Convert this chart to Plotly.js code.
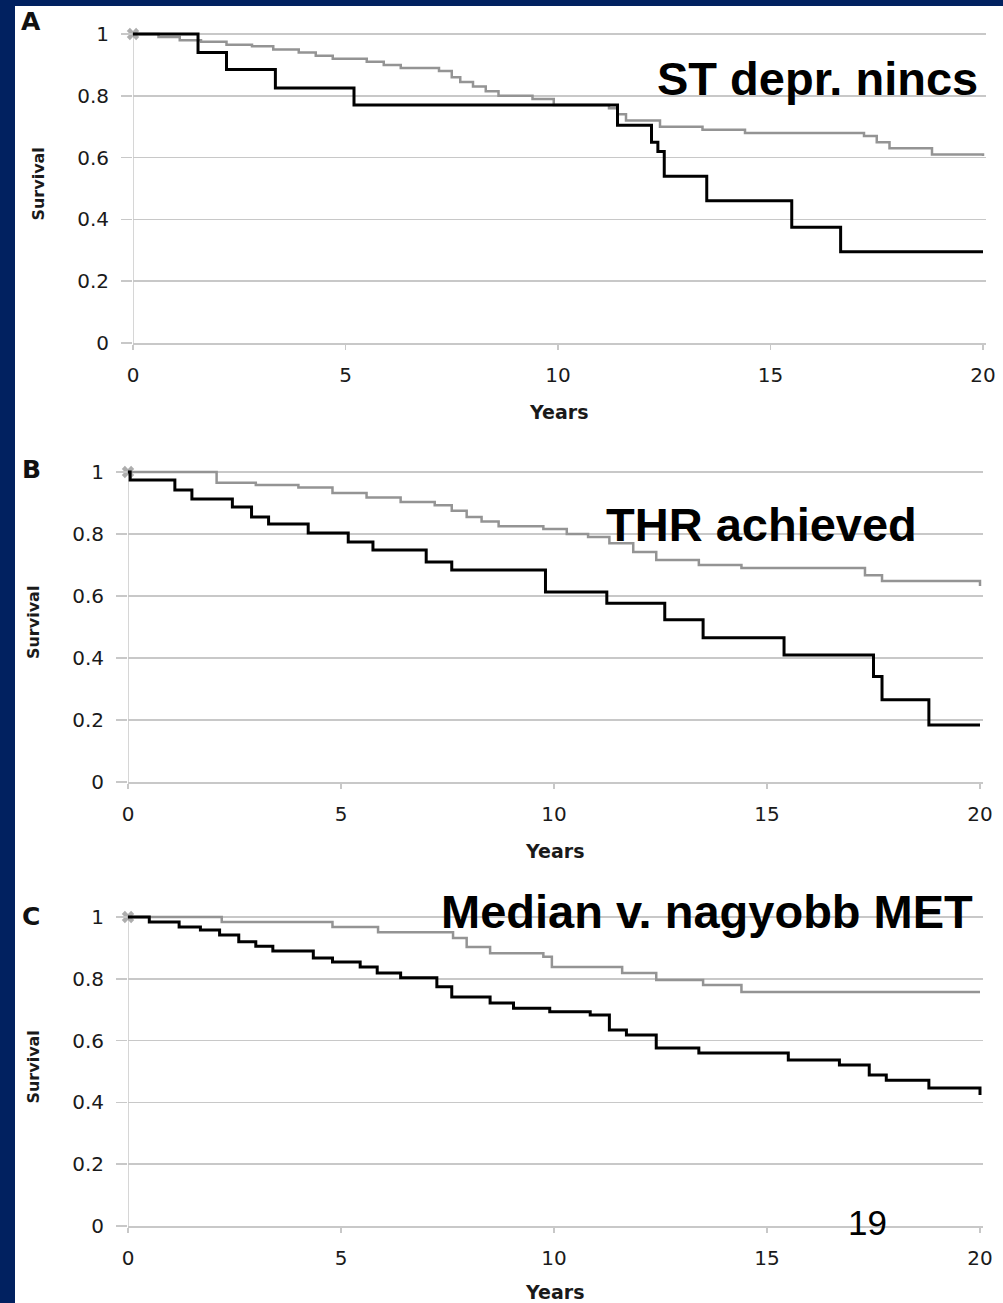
<!DOCTYPE html>
<html>
<head>
<meta charset="utf-8">
<script src="https://cdn.plot.ly/plotly-3.0.1.min.js"></script>
<style>
  html, body { margin: 0; padding: 0; background: #012160; width: 1003px; height: 1303px; overflow: hidden; }
  #plot { position: absolute; left: 15px; top: 6px; width: 988px; height: 1297px; }
</style>
</head>
<body>
<div id="plot"></div>
<script>
// ---- Data ----
const panelLetters = ["A", "B", "C"];
const panelTitles = ["ST depr. nincs", "THR achieved", "Median v. nagyobb MET"];
const xTickVals = [0, 5, 10, 15, 20];
const yTickVals = [0, 0.2, 0.4, 0.6, 0.8, 1];

// Panel A
const tA_black = [0, 1.53, 2.2, 3.35, 5.2, 11.4, 12.2, 12.35, 12.5, 13.5, 15.5, 16.65, 20];
const sA_black = [1, 0.94, 0.885, 0.825, 0.77, 0.705, 0.65, 0.62, 0.54, 0.46, 0.375, 0.295, 0.295];
const tA_gray = [0, 0.6, 1.1, 1.6, 2.2, 2.8, 3.3, 3.9, 4.3, 4.7, 5.5, 5.9, 6.3, 7.2, 7.5, 7.7, 8.0, 8.3, 8.6, 9.4, 9.9, 11.2, 11.4, 11.6, 12.4, 13.4, 14.4, 17.2, 17.5, 17.8, 18.8, 20];
const sA_gray = [1, 0.99, 0.98, 0.975, 0.965, 0.96, 0.95, 0.94, 0.93, 0.92, 0.91, 0.90, 0.89, 0.88, 0.86, 0.845, 0.83, 0.815, 0.80, 0.79, 0.77, 0.76, 0.74, 0.72, 0.70, 0.69, 0.68, 0.67, 0.65, 0.63, 0.61, 0.605];

// Panel B
const tB_black = [0, 0.05, 1.1, 1.5, 2.45, 2.9, 3.3, 4.23, 5.17, 5.75, 7.0, 7.6, 9.8, 11.24, 12.6, 13.5, 15.4, 17.5, 17.7, 18.8, 20];
const sB_black = [1, 0.974, 0.942, 0.913, 0.887, 0.855, 0.832, 0.803, 0.774, 0.748, 0.71, 0.684, 0.613, 0.577, 0.523, 0.465, 0.41, 0.34, 0.265, 0.184, 0.184];
const tB_gray = [0, 2.08, 3.0, 4.0, 4.8, 5.6, 6.4, 7.2, 7.6, 7.95, 8.3, 8.7, 9.75, 10.3, 10.8, 11.3, 11.86, 12.4, 13.4, 14.4, 17.3, 17.7, 20];
const sB_gray = [1, 0.965, 0.958, 0.95, 0.932, 0.918, 0.903, 0.893, 0.875, 0.855, 0.84, 0.825, 0.816, 0.80, 0.79, 0.77, 0.742, 0.716, 0.70, 0.69, 0.667, 0.648, 0.632];

// Panel C
const tC_black = [0, 0.5, 1.2, 1.7, 2.15, 2.6, 3.0, 3.4, 4.35, 4.8, 5.45, 5.85, 6.4, 7.25, 7.6, 8.5, 9.05, 9.9, 10.85, 11.3, 11.7, 12.4, 13.4, 15.5, 16.7, 17.4, 17.8, 18.8, 20];
const sC_black = [1, 0.984, 0.968, 0.958, 0.942, 0.92, 0.905, 0.89, 0.867, 0.854, 0.838, 0.819, 0.803, 0.774, 0.741, 0.722, 0.705, 0.693, 0.683, 0.634, 0.618, 0.576, 0.56, 0.537, 0.521, 0.489, 0.472, 0.447, 0.424];
const tC_gray = [0, 2.2, 4.8, 5.87, 7.63, 7.95, 8.5, 9.75, 9.95, 11.6, 12.4, 13.5, 14.4, 20];
const sC_gray = [1, 0.984, 0.968, 0.951, 0.932, 0.903, 0.883, 0.871, 0.838, 0.819, 0.796, 0.78, 0.757, 0.757];

// ---- Layout geometry (pixels inside the 988x1297 plot div) ----
const W = 988, H = 1297;
const GRID = '#c8c8c8';
const GRAYLINE = '#949494';
const panels = [
  { x0: 118, x20: 968, y0: 337, y1: 28, black: [tA_black, sA_black], gray: [tA_gray, sA_gray],
    letter: [16, 16], title: { x: 965, y: 72, anchor: 'right' } },
  { x0: 113, x20: 965, y0: 776, y1: 466, black: [tB_black, sB_black], gray: [tB_gray, sB_gray],
    letter: [16, 463], title: { x: 904, y: 518.5, anchor: 'right' } },
  { x0: 113, x20: 965, y0: 1220, y1: 911, black: [tC_black, sC_black], gray: [tC_gray, sC_gray],
    letter: [16, 910], title: { x: 960, y: 905.5, anchor: 'right' } }
];
const XMAX = 20.06, YMAX = 1.03;

const data = [];
const layout = {
  width: W, height: H,
  margin: { l: 0, r: 0, t: 0, b: 0, pad: 0 },
  paper_bgcolor: '#ffffff',
  plot_bgcolor: 'rgba(0,0,0,0)',
  showlegend: false,
  shapes: [],
  annotations: []
};

panels.forEach((p, i) => {
  const n = i === 0 ? '' : String(i + 1);
  const xa = 'x' + n, ya = 'y' + n;
  const pxPerX = (p.x20 - p.x0) / 20;
  const pxPerY = (p.y0 - p.y1);
  const xRight = p.x0 + XMAX * pxPerX;
  const yTop = p.y0 - YMAX * pxPerY;

  layout['xaxis' + n] = {
    domain: [p.x0 / W, xRight / W],
    range: [0, XMAX],
    anchor: ya,
    tickvals: xTickVals,
    ticks: 'outside', ticklen: 5, tickwidth: 1.5, tickcolor: GRID,
    showgrid: false, zeroline: false,
    showline: true, linecolor: GRID, linewidth: 1.5,
    ticklabelstandoff: 8,
    tickfont: { family: 'DejaVu Sans', size: 20, color: '#1a1a1a' },
    title: { text: 'Years', standoff: 20, font: { family: 'DejaVu Sans', size: 19, color: '#1a1a1a', weight: 'bold' } },
    fixedrange: true
  };
  layout['yaxis' + n] = {
    domain: [1 - p.y0 / H, 1 - yTop / H],
    range: [0, YMAX],
    anchor: xa,
    tickvals: yTickVals,
    ticks: 'outside', ticklen: 11, tickwidth: 1.5, tickcolor: GRID,
    showgrid: true, gridcolor: GRID, gridwidth: 1.5,
    zeroline: false, showline: false,
    ticklabelstandoff: 8,
    tickfont: { family: 'DejaVu Sans', size: 20, color: '#1a1a1a' },
    title: { text: 'Survival', standoff: 28, font: { family: 'DejaVu Sans', size: 16, color: '#1a1a1a', weight: 'bold' } },
    fixedrange: true
  };
  // vertical axis line from 0 to 1
  layout.shapes.push({ type: 'line', xref: xa, yref: ya, x0: 0, x1: 0, y0: 0, y1: 1,
    line: { color: GRID, width: 1.5 }, layer: 'below' });

  const gt = p.gray[0], gs = p.gray[1];
  data.push({
    type: 'scatter', mode: 'lines+markers', xaxis: xa, yaxis: ya,
    x: gt, y: gs, line: { shape: 'hv', color: GRAYLINE, width: 2.5 },
    marker: { symbol: 'x', color: '#8a8a8a', size: gt.map((_, k) => k === 0 ? 11 : 0), line: { width: 0 } },
    cliponaxis: false, hoverinfo: 'skip'
  });
  const bt = p.black[0], bs = p.black[1];
  data.push({
    type: 'scatter', mode: 'lines', xaxis: xa, yaxis: ya,
    x: bt, y: bs, line: { shape: 'hv', color: '#000000', width: 3 },
    hoverinfo: 'skip'
  });

  layout.annotations.push({
    xref: 'paper', yref: 'paper', x: p.letter[0] / W, y: 1 - p.letter[1] / H,
    xanchor: 'center', yanchor: 'middle', showarrow: false,
    text: panelLetters[i], font: { family: 'DejaVu Sans', size: 25, color: '#111', weight: 'bold' }
  });
  layout.annotations.push({
    xref: 'paper', yref: 'paper', x: p.title.x / W, y: 1 - p.title.y / H,
    xanchor: p.title.anchor, yanchor: 'middle', showarrow: false,
    text: panelTitles[i], font: { family: 'Liberation Sans', size: 47, color: '#000', weight: 'bold' }
  });
});

layout.annotations.push({
  xref: 'paper', yref: 'paper', x: 852 / W, y: 1 - 1216 / H,
  xanchor: 'center', yanchor: 'middle', showarrow: false,
  text: '19', font: { family: 'Liberation Sans', size: 35, color: '#000' }
});

Plotly.newPlot('plot', data, layout, { displayModeBar: false, staticPlot: true });
</script>
</body>
</html>
